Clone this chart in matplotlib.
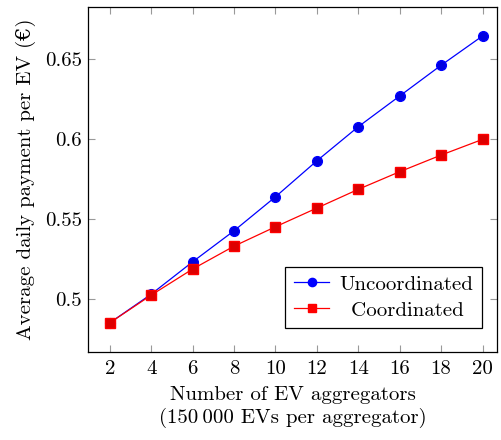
import numpy as np
import matplotlib
matplotlib.use("Agg")
import matplotlib.pyplot as plt
from matplotlib.ticker import FuncFormatter

# ===================== DATA =====================
aggregators = [2, 4, 6, 8, 10, 12, 14, 16, 18, 20]
uncoordinated = [0.4852, 0.5031, 0.5233, 0.5427, 0.5639, 0.5864, 0.6077, 0.6269, 0.6461, 0.6644]
coordinated = [0.4852, 0.5025, 0.5188, 0.5331, 0.5452, 0.5569, 0.5686, 0.5796, 0.5900, 0.5998]
y_ticks = [0.5, 0.55, 0.6, 0.65]

plt.rcParams['font.family'] = ['cmr10', 'DejaVu Serif']
plt.rcParams['mathtext.fontset'] = 'cm'
plt.rcParams['axes.unicode_minus'] = False

FS = 15

fig = plt.figure(figsize=(5.02, 4.4), dpi=100)
ax = fig.add_axes([88 / 502, 1 - 352 / 440, (497 - 88) / 502, (352 - 7) / 440])

ax.plot(aggregators, uncoordinated, color="blue", marker="o", markersize=7,
        markerfacecolor="#0000e0", linewidth=0.9, label="Uncoordinated")
ax.plot(aggregators, coordinated, color="red", marker="s", markersize=6.5,
        markerfacecolor="#dd0000", markeredgecolor="red", linewidth=0.9,
        label="\u2009 Coordinated")

ax.set_xlim(0.95, 20.7)
ax.set_ylim(0.467, 0.6825)
ax.set_xticks(aggregators)
ax.set_yticks(y_ticks)
ax.yaxis.set_major_formatter(FuncFormatter(lambda v, p: f"{v:g}"))

ax.tick_params(direction="in", top=True, right=True, length=5, width=0.8,
               color="#999999", labelsize=FS)
ax.tick_params(axis="y", pad=4.5)
ax.tick_params(axis="x", pad=5.5)
for s in ax.spines.values():
    s.set_linewidth(0.9)

ax.set_xlabel("Number of EV aggregators\n(150\u2009000 EVs per aggregator)",
              fontsize=FS, linespacing=1.25, labelpad=6)
ax.set_ylabel("Average daily payment per EV (\u20ac)", fontsize=FS, labelpad=6)

leg = ax.legend(loc="lower right", bbox_to_anchor=(0.963, 0.07), fontsize=FS,
                fancybox=False, framealpha=1, edgecolor="black",
                handlelength=1.7, handletextpad=0.5, borderpad=0.4,
                labelspacing=0.35, markerscale=0.85, borderaxespad=0)
leg.get_frame().set_linewidth(0.9)
for h in leg.legend_handles:
    h.set_markerfacecolor(h.get_color())

fig.savefig("out.png", dpi=100)
